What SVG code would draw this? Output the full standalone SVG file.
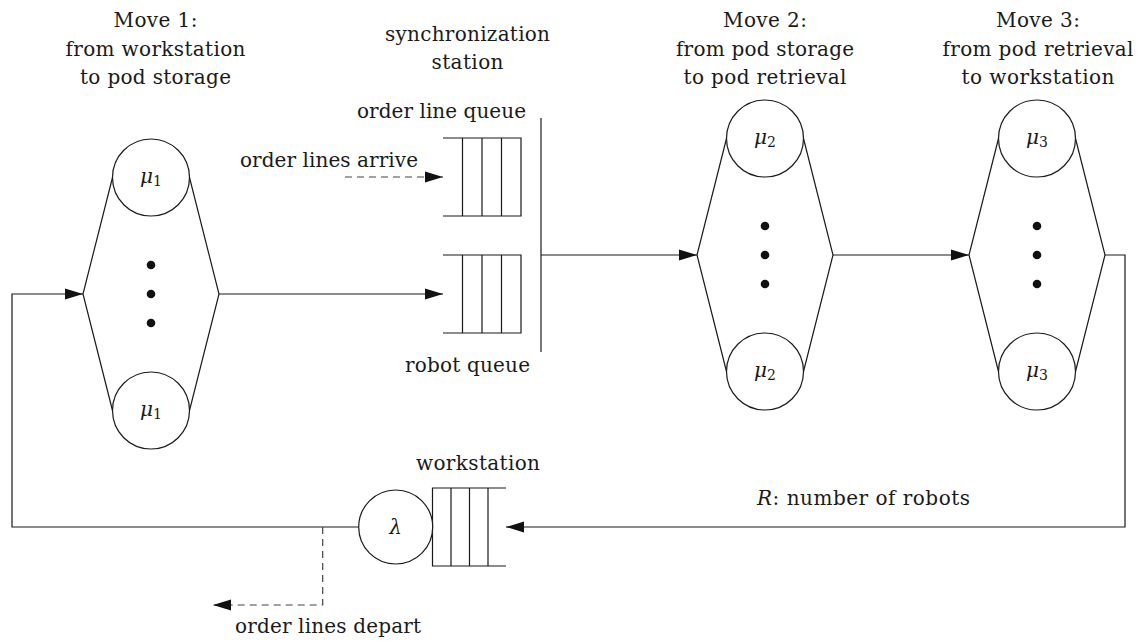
<svg xmlns="http://www.w3.org/2000/svg" width="1137" height="641" viewBox="0 0 1137 641">
  <style>
    .ln { fill: none; stroke: #1a1a1a; stroke-width: 1.2; }
    .dash { fill: none; stroke: #444; stroke-width: 1.2; stroke-dasharray: 7 5; }
    .srv { fill: #fff; stroke: #1a1a1a; stroke-width: 1.2; }
    .dot { fill: #111; }
    .t { font-family: 'DejaVu Serif', 'Liberation Serif', serif; font-size: 20px; fill: #1a1a1a; }
    .math { font-style: italic; }
    .sub { font-size: 14px; font-style: normal; }
  </style>
  <defs>
    <marker id="arrow" markerUnits="userSpaceOnUse" markerWidth="18" markerHeight="12" refX="18" refY="6" orient="auto">
      <path d="M0,0.5 L18,6 L0,11.5 z" fill="#111"/>
    </marker>
  </defs>

  <rect width="1137" height="641" fill="#fff"/>

  <!-- Move 1: bank of parallel servers -->
  <g id="move1">
    <text class="t" x="113.5" y="27" textLength="84" lengthAdjust="spacing">Move 1:</text>
    <text class="t" x="65.5" y="56" textLength="180" lengthAdjust="spacing">from workstation</text>
    <text class="t" x="80" y="83.5" textLength="151" lengthAdjust="spacing">to pod storage</text>
    <path class="ln" d="M112.5,177.5 L83,294 L112.5,410.5 M189.5,177.5 L219,294 L189.5,410.5"/>
    <circle class="srv" cx="151" cy="177.5" r="38.5"/>
    <circle class="srv" cx="151" cy="410.5" r="38.5"/>
    <text class="t" x="151" y="183" text-anchor="middle"><tspan class="math">μ</tspan><tspan class="sub" dy="3">1</tspan></text>
    <text class="t" x="151" y="416" text-anchor="middle"><tspan class="math">μ</tspan><tspan class="sub" dy="3">1</tspan></text>
    <circle class="dot" cx="151" cy="265" r="4.3"/>
    <circle class="dot" cx="151" cy="294" r="4.3"/>
    <circle class="dot" cx="151" cy="323" r="4.3"/>
  </g>

  <!-- synchronization station: order line queue, robot queue, join bar -->
  <g id="sync-station">
    <text class="t" x="385" y="41" textLength="165" lengthAdjust="spacing">synchronization</text>
    <text class="t" x="431.5" y="69" textLength="72" lengthAdjust="spacing">station</text>
    <text class="t" x="357" y="118" textLength="169" lengthAdjust="spacing">order line queue</text>
    <text class="t" x="240" y="167" textLength="178" lengthAdjust="spacing">order lines arrive</text>
    <text class="t" x="405" y="372" textLength="125" lengthAdjust="spacing">robot queue</text>
    <path class="ln" d="M443,138 H521 V216 H443 M462.5,138 V216 M482,138 V216 M501.5,138 V216"/>
    <path class="ln" d="M443,255 H521 V333 H443 M462.5,255 V333 M482,255 V333 M501.5,255 V333"/>
    <path class="ln" d="M541,118 V352"/>
  </g>

  <!-- Move 2 -->
  <g id="move2">
    <text class="t" x="723" y="27" textLength="84" lengthAdjust="spacing">Move 2:</text>
    <text class="t" x="676" y="56" textLength="178" lengthAdjust="spacing">from pod storage</text>
    <text class="t" x="683.5" y="83.5" textLength="163" lengthAdjust="spacing">to pod retrieval</text>
    <path class="ln" d="M726.5,138.5 L697,255 L726.5,371.5 M803.5,138.5 L833,255 L803.5,371.5"/>
    <circle class="srv" cx="765" cy="138.5" r="38.5"/>
    <circle class="srv" cx="765" cy="371.5" r="38.5"/>
    <text class="t" x="765" y="144" text-anchor="middle"><tspan class="math">μ</tspan><tspan class="sub" dy="3">2</tspan></text>
    <text class="t" x="765" y="377" text-anchor="middle"><tspan class="math">μ</tspan><tspan class="sub" dy="3">2</tspan></text>
    <circle class="dot" cx="765" cy="226" r="4.3"/>
    <circle class="dot" cx="765" cy="255" r="4.3"/>
    <circle class="dot" cx="765" cy="284" r="4.3"/>
  </g>

  <!-- Move 3 -->
  <g id="move3">
    <text class="t" x="996" y="27" textLength="84" lengthAdjust="spacing">Move 3:</text>
    <text class="t" x="942.5" y="56" textLength="191" lengthAdjust="spacing">from pod retrieval</text>
    <text class="t" x="961.5" y="83.5" textLength="153" lengthAdjust="spacing">to workstation</text>
    <path class="ln" d="M998.5,138.5 L969,255 L998.5,371.5 M1075.5,138.5 L1105,255 L1075.5,371.5"/>
    <circle class="srv" cx="1037" cy="138.5" r="38.5"/>
    <circle class="srv" cx="1037" cy="371.5" r="38.5"/>
    <text class="t" x="1037" y="144" text-anchor="middle"><tspan class="math">μ</tspan><tspan class="sub" dy="3">3</tspan></text>
    <text class="t" x="1037" y="377" text-anchor="middle"><tspan class="math">μ</tspan><tspan class="sub" dy="3">3</tspan></text>
    <circle class="dot" cx="1037" cy="226" r="4.3"/>
    <circle class="dot" cx="1037" cy="255" r="4.3"/>
    <circle class="dot" cx="1037" cy="284" r="4.3"/>
  </g>

  <!-- workstation: picker server with its robot queue -->
  <g id="workstation">
    <text class="t" x="416" y="470" textLength="124" lengthAdjust="spacing">workstation</text>
    <path class="ln" d="M506,488 H432.5 V566 H506 M451,488 V566 M469.5,488 V566 M488,488 V566"/>
    <circle class="srv" cx="395.7" cy="527" r="37"/>
    <text class="t math" x="395.7" y="534" text-anchor="middle">λ</text>
  </g>

  <!-- labels on the flow -->
  <g id="flow-labels">
    <text class="t" x="757" y="505" textLength="213" lengthAdjust="spacing"><tspan class="math">R</tspan>: number of robots</text>
    <text class="t" x="235" y="633" textLength="186" lengthAdjust="spacing">order lines depart</text>
  </g>

  <!-- connectors -->
  <g id="connectors">
    <path class="ln" d="M219,294 H443" marker-end="url(#arrow)"/>
    <path class="dash" d="M345,177 H443" marker-end="url(#arrow)"/>
    <path class="ln" d="M541,255 H697" marker-end="url(#arrow)"/>
    <path class="ln" d="M833,255 H969" marker-end="url(#arrow)"/>
    <path class="ln" d="M1105,255 H1125 V527 H506" marker-end="url(#arrow)"/>
    <path class="ln" d="M358.7,527 H12 V294 H83" marker-end="url(#arrow)"/>
    <path class="dash" d="M322.7,527 V605 H213" marker-end="url(#arrow)"/>
  </g>
</svg>
